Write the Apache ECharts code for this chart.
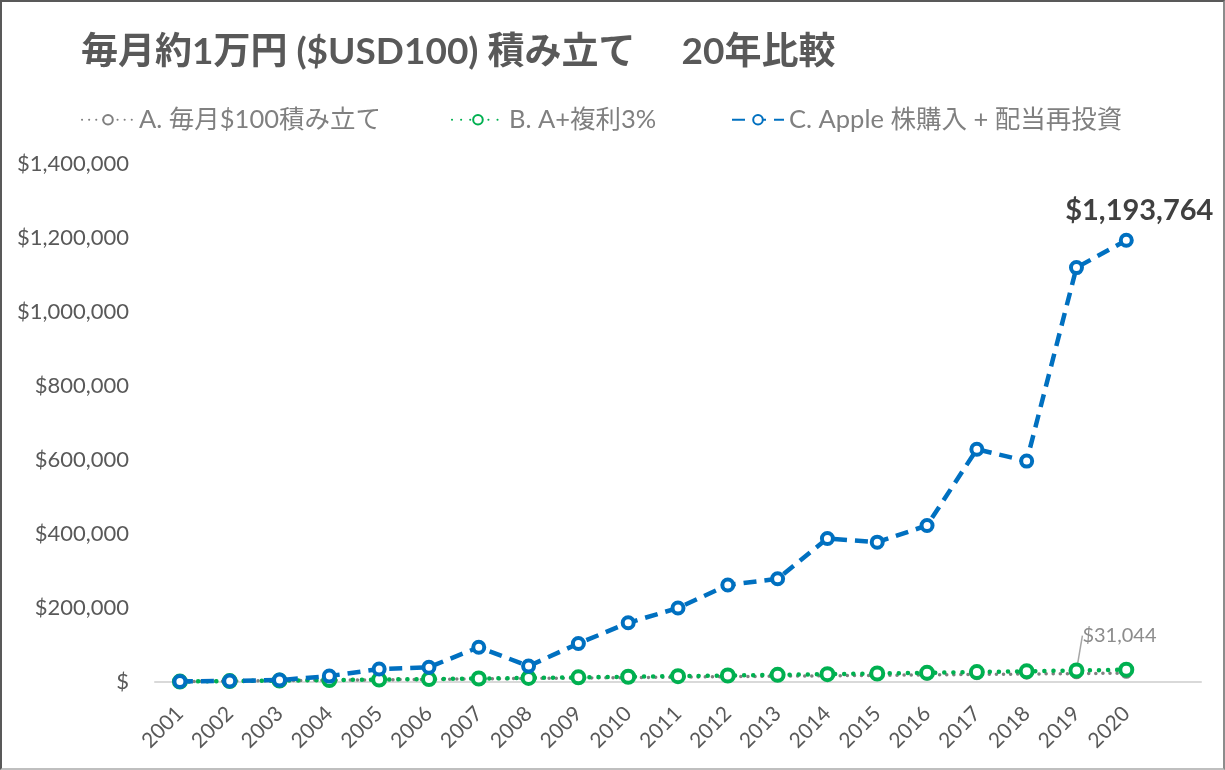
<!DOCTYPE html>
<html>
<head>
<meta charset="utf-8">
<script src="https://cdn.jsdelivr.net/npm/echarts@6/dist/echarts.min.js"></script>
<style>
  html, body { margin: 0; padding: 0; background: #fff; }
  #main { width: 1225px; height: 770px; box-sizing: border-box; border: 2px solid #595959; border-right-color: #8c8c8c; border-bottom-color: #bfbfbf; }
</style>
</head>
<body>
<div id="main"></div>
<script>
// data
var years = ['2001','2002','2003','2004','2005','2006','2007','2008','2009','2010',
             '2011','2012','2013','2014','2015','2016','2017','2018','2019','2020'];
var seriesNames = ['A. 毎月$100積み立て', 'B. A+複利3%', 'C. Apple 株購入 + 配当再投資'];
var savingA = [1200, 2400, 3600, 4800, 6000, 7200, 8400, 9600, 10800, 12000,
               13200, 14400, 15600, 16800, 18000, 19200, 20400, 21600, 22800, 24000];
var compoundB = [1236, 2500, 3800, 5170, 6560, 8000, 9470, 11000, 12560, 14170,
                 15830, 17540, 19300, 21120, 22990, 24910, 26900, 28940, 31044, 33210];
var appleC = [1500, 2800, 5200, 16000, 35000, 40000, 94000, 43000, 104000, 160000,
              200000, 262000, 279000, 388000, 378000, 423000, 629000, 597000, 1120000, 1193764];
var yTicks = [0, 200000, 400000, 600000, 800000, 1000000, 1200000, 1400000];

var fmt = function (v) {
  if (v === 0) return '$';
  return '$' + v.toLocaleString('en-US');
};

var chart = echarts.init(document.getElementById('main'));

var cjk = 'Lato, "Noto Sans CJK JP", sans-serif';

// marker: white fill, thick coloured ring
function ring(color, width) {
  return { color: '#fff', borderColor: color, borderWidth: width };
}

var legendBase = {
  top: 100,
  itemWidth: 52,
  itemHeight: 12,
  textStyle: { fontFamily: cjk, fontSize: 25.5, color: '#808080' }
};

var option = {
  animation: false,
  title: {
    text: '毎月約1万円 ($USD100) 積み立て　 20年比較',
    left: 74,
    top: 27,
    textStyle: { fontFamily: cjk, fontSize: 37, fontWeight: 'bold', color: '#595959' }
  },
  legend: [
    Object.assign({}, legendBase, { left: 74, itemGap: 70, data: seriesNames.slice(0, 2) }),
    Object.assign({}, legendBase, { left: 724, data: seriesNames.slice(2) })
  ],
  grid: { left: 153, right: 22, top: 162, bottom: 86 },
  xAxis: {
    type: 'category',
    data: years.concat(['']),
    boundaryGap: true,
    axisLine: { lineStyle: { color: '#d9d9d9', width: 2 } },
    axisTick: { show: false },
    axisLabel: {
      rotate: 45, interval: 0, margin: 28,
      fontFamily: 'Lato, sans-serif', fontSize: 21, color: '#595959'
    }
  },
  yAxis: {
    type: 'value',
    min: 0,
    max: 1400000,
    interval: 200000,
    splitLine: { show: false },
    axisLine: { show: false },
    axisTick: { show: false },
    axisLabel: {
      margin: 26,
      fontFamily: 'Lato, sans-serif', fontSize: 22, color: '#595959',
      formatter: function (v) { return yTicks.indexOf(v) >= 0 ? fmt(v) : ''; }
    }
  },
  series: [
    {
      name: seriesNames[0],
      type: 'line',
      data: savingA,
      symbol: 'circle',
      symbolSize: 9,
      lineStyle: { color: '#808080', width: 3.5, type: [0.1, 7], cap: 'round' },
      itemStyle: ring('#808080', 2.5)
    },
    {
      name: seriesNames[1],
      type: 'line',
      data: compoundB.map(function (v, i) {
        if (i === 18) {
          return {
            value: v,
            label: {
              show: true, position: 'top',
              formatter: function (p) { return fmt(p.value); },
              fontFamily: 'Lato, sans-serif', fontSize: 20, color: '#8c8c8c'
            }
          };
        }
        return v;
      }),
      symbol: 'circle',
      symbolSize: 12,
      lineStyle: { color: '#00b050', width: 4.5, type: [0.1, 9], cap: 'round' },
      itemStyle: ring('#00b050', 4),
      labelLayout: { dx: 43, dy: -12 },
      labelLine: { show: true, lineStyle: { color: '#a6a6a6', width: 1.5 } }
    },
    {
      name: seriesNames[2],
      type: 'line',
      data: appleC.map(function (v, i) {
        if (i === appleC.length - 1) {
          return {
            value: v,
            label: {
              show: true, position: 'top', distance: 8, offset: [13, 0],
              formatter: function (p) { return fmt(p.value); },
              fontFamily: 'Lato, sans-serif', fontSize: 29, fontWeight: 'bold', color: '#404040'
            }
          };
        }
        return v;
      }),
      symbol: 'circle',
      symbolSize: 11,
      z: 5,
      lineStyle: { color: '#0070c0', width: 4.5, type: [13, 8] },
      itemStyle: ring('#0070c0', 4)
    }
  ]
};

chart.setOption(option);
</script>
</body>
</html>
